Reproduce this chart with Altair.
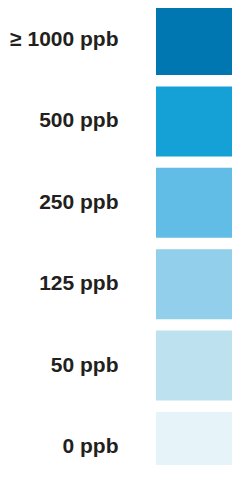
import altair as alt
import pandas as pd

labels = ["≥ 1000 ppb", "500 ppb", "250 ppb", "125 ppb", "50 ppb", "0 ppb"]
colors = ["#0077B0", "#15A0D6", "#62BDE6", "#91CFEA", "#BDE1EF", "#E6F4FA"]
values = [1, 1, 1, 1, 1, 1]

df = pd.DataFrame({"label": labels, "value": values})

chart = (
    alt.Chart(df)
    .mark_bar()
    .encode(
        y=alt.Y(
            "label:N",
            sort=labels,
            scale=alt.Scale(range=[-3, 474], paddingInner=0.14, paddingOuter=0),
            axis=alt.Axis(
                title=None,
                ticks=False,
                domain=False,
                labelFont="Liberation Sans",
                labelFontSize=21,
                labelFontWeight="bold",
                labelColor="#231F20",
                labelPadding=38,
            ),
        ),
        x=alt.X("value:Q", scale=alt.Scale(domain=[0, 1], nice=False, range=[0, 86]), axis=None),
        color=alt.Color("label:N", scale=alt.Scale(domain=labels, range=colors), legend=None),
    )
    .properties(
        width=76,
        height=457,
        autosize=alt.AutoSizeParams(type="none"),
        padding={"left": 148, "top": 0, "right": 0, "bottom": 0},
    )
    .configure_view(stroke=None)
)

chart.save("out.html", embed_options={"renderer": "svg", "actions": False})
